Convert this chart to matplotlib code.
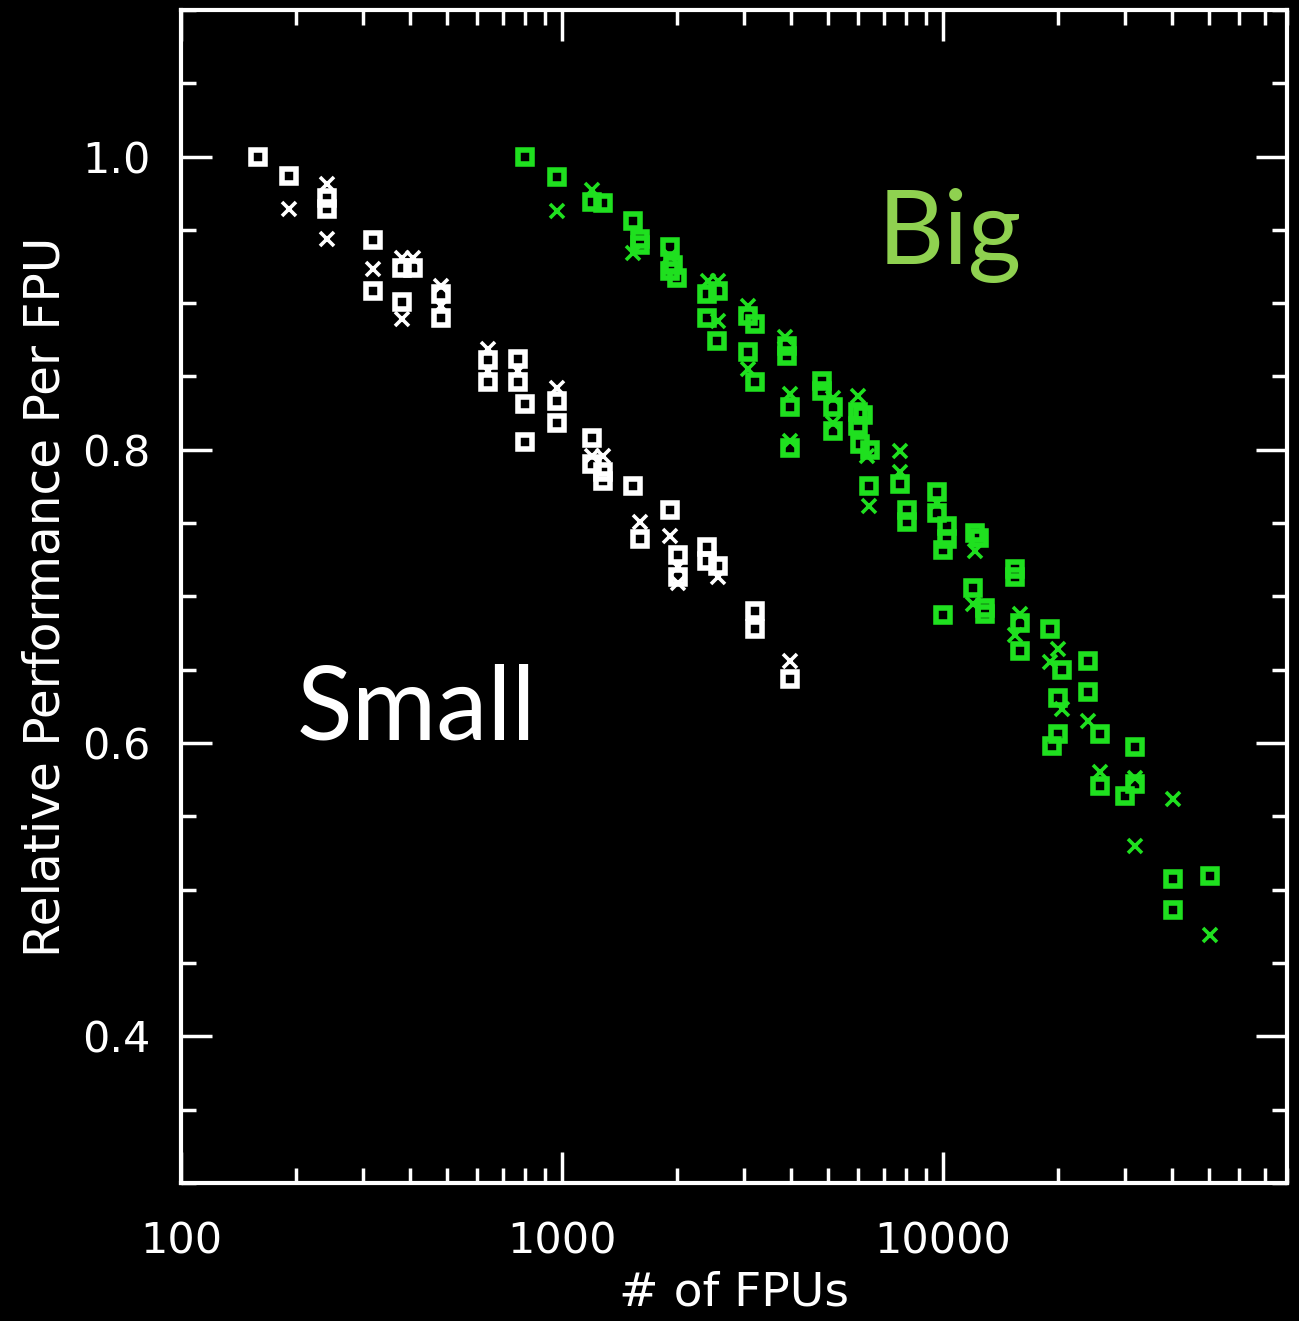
import matplotlib
matplotlib.use("Agg")
import matplotlib.pyplot as plt
from matplotlib.ticker import LogLocator, MultipleLocator, FixedLocator, NullFormatter

# small problem: squares and crosses (two runs)
small_sq_x = [159, 192, 241, 241, 320, 320, 380, 407, 380, 481, 481, 641, 641, 768, 768, 800, 800,
              968, 968, 1200, 1200, 1282, 1282, 1539, 1602, 1921, 2019, 2019, 2398, 2398, 2572,
              3211, 3211, 3967]
small_sq_y = [1.000, 0.987, 0.972, 0.964, 0.943, 0.908, 0.924, 0.924, 0.901, 0.906, 0.890, 0.861,
              0.846, 0.862, 0.846, 0.831, 0.805, 0.833, 0.818, 0.808, 0.790, 0.785, 0.779, 0.775,
              0.739, 0.759, 0.728, 0.713, 0.734, 0.724, 0.721, 0.690, 0.678, 0.644]
small_x_x = [192, 241, 241, 320, 380, 407, 380, 481, 481, 641, 641, 768, 968, 1200, 1282, 1602,
             1921, 2019, 2019, 2572, 3967]
small_x_y = [0.964, 0.981, 0.944, 0.923, 0.931, 0.931, 0.889, 0.912, 0.898, 0.869, 0.854, 0.854,
             0.842, 0.796, 0.796, 0.751, 0.741, 0.720, 0.709, 0.713, 0.656]

# big problem
big_sq_x = [800, 968, 1200, 1282, 1539, 1602, 1602, 1921, 1960, 1921, 2000, 2398, 2572, 2398, 2547,
            3083, 3211, 3083, 3211, 3900, 3900, 3967, 3967, 4804, 4804, 5154, 5154, 6000, 6150,
            5993, 6070, 6430, 6400, 7710, 8030, 8030, 9630, 9630, 10230, 10230, 10000, 10000,
            12130, 12400, 12000, 12890, 12890, 15450, 15450, 15930, 15930, 19090, 20000, 20000,
            19300, 20500, 24050, 24050, 25830, 25830, 31900, 31900, 30040, 40230, 40230, 50200]
big_sq_y = [1.000, 0.986, 0.969, 0.968, 0.956, 0.944, 0.940, 0.938, 0.926, 0.922, 0.917, 0.906,
            0.908, 0.890, 0.874, 0.891, 0.886, 0.867, 0.846, 0.871, 0.864, 0.829, 0.801, 0.847,
            0.840, 0.829, 0.813, 0.826, 0.824, 0.816, 0.804, 0.800, 0.775, 0.777, 0.759, 0.751,
            0.771, 0.757, 0.748, 0.739, 0.732, 0.687, 0.743, 0.740, 0.706, 0.692, 0.688, 0.719,
            0.713, 0.682, 0.663, 0.678, 0.631, 0.606, 0.598, 0.650, 0.656, 0.635, 0.606, 0.571,
            0.597, 0.572, 0.564, 0.507, 0.486, 0.509]
big_x_x = [968, 1200, 1539, 1921, 2410, 2572, 2572, 3083, 3083, 3848, 3967, 3967, 5154, 5154, 5993,
           6300, 6400, 7710, 7710, 9630, 12130, 12000, 15930, 15450, 20000, 19090, 20500, 24050,
           25830, 31900, 31900, 40230, 50200]
big_x_y = [0.963, 0.977, 0.934, 0.932, 0.915, 0.915, 0.888, 0.898, 0.855, 0.877, 0.838, 0.806,
           0.835, 0.818, 0.837, 0.796, 0.762, 0.799, 0.785, 0.764, 0.731, 0.695, 0.688, 0.674,
           0.664, 0.655, 0.623, 0.615, 0.580, 0.576, 0.530, 0.562, 0.469]

GREEN = "#1fe01f"
tick_font = ["DejaVu Sans"]

fig = plt.figure(figsize=(12.99, 13.21), dpi=100, facecolor="black")
ax = fig.add_axes([0.1393, 0.1045, 0.8515, 0.888])
ax.set_facecolor("black")

sq_kw = dict(marker="s", linestyle="none", markersize=10.5, markerfacecolor="none", markeredgewidth=4)
x_kw = dict(marker="x", linestyle="none", markersize=10, markeredgewidth=2.6)

ax.plot(small_sq_x, small_sq_y, color="white", **sq_kw)
ax.plot(small_x_x, small_x_y, color="white", **x_kw)
ax.plot(big_sq_x, big_sq_y, color=GREEN, **sq_kw)
ax.plot(big_x_x, big_x_y, color=GREEN, **x_kw)

ax.set_xscale("log")
ax.set_xlim(100, 80000)
ax.set_ylim(0.3, 1.1)

ax.xaxis.set_major_locator(FixedLocator([100, 1000, 10000]))
ax.xaxis.set_minor_locator(LogLocator(base=10, subs=range(2, 10), numticks=20))
ax.xaxis.set_minor_formatter(NullFormatter())
ax.set_xticklabels(["100", "1000", "10000"])
ax.yaxis.set_major_locator(FixedLocator([0.4, 0.6, 0.8, 1.0]))
ax.yaxis.set_minor_locator(MultipleLocator(0.05))
ax.set_yticklabels(["0.4", "0.6", "0.8", "1.0"])

ax.tick_params(which="both", direction="in", colors="white", top=True, right=True, width=2.5)
ax.tick_params(axis="x", which="major", length=22, pad=27)
ax.tick_params(axis="y", which="major", length=22, pad=22)
ax.tick_params(which="minor", length=11)
for lab in ax.get_xticklabels() + ax.get_yticklabels():
    lab.set_family(tick_font)
    lab.set_fontsize(31)
for s in ax.spines.values():
    s.set_color("white")
    s.set_linewidth(3)

ax.set_xlabel("# of FPUs", color="white", fontsize=34, family=tick_font, labelpad=6)
ax.set_ylabel("Relative Performance Per FPU", color="white", fontsize=35, family=tick_font, labelpad=9)

ax.text(0.105, 0.378, "Small", transform=ax.transAxes, color="white", fontsize=74, family="Lato")
ax.text(0.630, 0.783, "Big", transform=ax.transAxes, color="#8fd150", fontsize=74, family="Lato")

fig.savefig("out.png", dpi=100, facecolor="black")
